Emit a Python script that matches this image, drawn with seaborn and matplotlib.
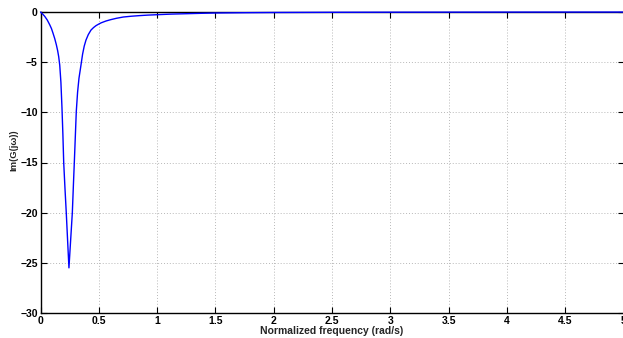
import matplotlib
matplotlib.use("Agg")
import matplotlib.pyplot as plt
import seaborn as sns
import pandas as pd

# Data
omega = [0, 0.018, 0.036, 0.058, 0.079, 0.094, 0.107, 0.122, 0.136, 0.147, 0.156,
         0.165, 0.175, 0.184, 0.192, 0.199, 0.21, 0.221, 0.233, 0.244, 0.255,
         0.264, 0.273, 0.283, 0.29, 0.3, 0.307, 0.318, 0.33, 0.347, 0.361, 0.375,
         0.39, 0.41, 0.433, 0.455, 0.476, 0.5, 0.52, 0.561, 0.6, 0.65, 0.71, 0.78,
         0.85, 0.92, 1.0, 1.12, 1.25, 1.38, 1.5, 1.75, 2.0, 2.5, 3.0, 4.0, 5.0]
im_g = [0, -0.2, -0.43, -0.8, -1.27, -1.65, -2.1, -2.65, -3.27, -3.85, -4.45,
        -5.3, -7.0, -9.5, -12.2, -15.0, -17.6, -20.0, -22.9, -25.5, -23.4,
        -21.7, -20.0, -17.0, -15.0, -12.0, -9.9, -8.0, -6.6, -5.3, -4.2, -3.4,
        -2.8, -2.25, -1.8, -1.55, -1.36, -1.2, -1.08, -0.9, -0.77, -0.63, -0.5, -0.42,
        -0.36, -0.31, -0.27, -0.21, -0.17, -0.13, -0.1, -0.07, -0.05, -0.03, -0.02, -0.01, -0.005]
x_ticks = [0, 0.5, 1, 1.5, 2, 2.5, 3, 3.5, 4, 4.5, 5]
x_tick_labels = ["0", "0.5", "1", "1.5", "2", "2.5", "3", "3.5", "4", "4.5", "5"]
y_ticks = [-30, -25, -20, -15, -10, -5, 0]
y_tick_labels = ["\u221230", "\u221225", "\u221220", "\u221215", "\u221210", "\u22125", "0"]

df = pd.DataFrame({"omega": omega, "im": im_g})

sns.set_style("ticks")
plt.rcParams["font.family"] = ["Liberation Sans", "DejaVu Sans"]

fig = plt.figure(figsize=(6.23, 3.38), dpi=100)
ax = fig.add_axes([40.5 / 623, 1 - 313 / 338, 583 / 623, 301 / 338])

sns.lineplot(data=df, x="omega", y="im", ax=ax, color="#0000ff", linewidth=1.0,
             zorder=3, clip_on=False)

ax.set_xlim(0, 5)
ax.set_ylim(-30, 0)
ax.set_xticks(x_ticks)
ax.set_xticklabels(x_tick_labels, fontsize=7.5, fontweight="bold")
ax.set_yticks(y_ticks)
ax.set_yticklabels(y_tick_labels, fontsize=7.5, fontweight="bold")
ax.tick_params(direction="in", length=4, width=0.8, top=True, right=True, pad=2,
               colors="black")
ax.grid(True, linestyle=(0, (1, 2)), color="#b8b8b8", linewidth=0.7)
for s in ax.spines.values():
    s.set_linewidth(1.0)
    s.set_color("black")

ax.set_xlabel("Normalized frequency (rad/s)", fontsize=7.5, fontweight="bold", labelpad=0)
ax.set_ylabel("Im(G(j\u03c9))", fontsize=6.8, fontweight="bold")
ax.yaxis.set_label_coords(-22.5 / 583, 0.54)

fig.savefig("out.png", dpi=100)
